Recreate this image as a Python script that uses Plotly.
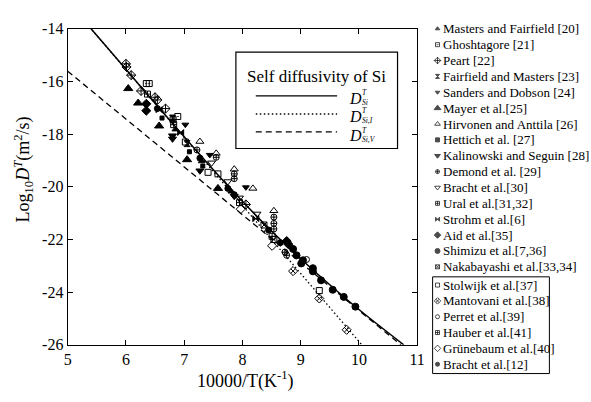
import plotly.graph_objects as go

W, H = 591, 402
SERIF = "Liberation Serif"

# ---- axes -----------------------------------------------------------------
x_ticks = [5, 6, 7, 8, 9, 10, 11]
x_tick_text = ["5", "6", "7", "8", "9", "10", "11"]
y_ticks = [-14, -16, -18, -20, -22, -24, -26]
y_tick_text = ["-14", "-16", "-18", "-20", "-22", "-24", "-26"]

# ---- model curves: log10 D versus 10000/T ---------------------------------
total_x = [5.39, 6.0, 6.5, 7.0, 7.5, 8.0, 8.5, 9.0, 9.5, 10.0, 10.77]
total_y = [-13.97, -15.54, -16.83, -18.10, -19.35, -20.55, -21.68, -22.73, -23.72, -24.66, -26.0]
interstitial_x = [5.42, 10.05]
interstitial_y = [-14.05, -26.0]
vacancy_x = [5.0, 10.72]
vacancy_y = [-15.61, -26.0]

# ---- experimental data (10000/T, log10 D) ----------------------------------
masters_fairfield = ([6.85, 7.30, 7.81], [-17.82, -19.03, -20.18])
ghoshtagore = ([6.35, 6.40, 6.89, 7.02], [-16.08, -16.08, -17.33, -18.30])
peart = ([6.00, 6.01, 6.09, 6.26, 6.50, 6.54, 6.68, 8.06],
         [-15.33, -15.45, -15.76, -16.36, -16.60, -16.70, -17.03, -20.67])
fairfield_masters = ([6.80, 7.05], [-17.39, -18.36])
sanders_dobson = ([7.02, 7.44, 8.06], [-17.64, -18.79, -20.02])
mayer = ([6.04, 6.21, 6.57, 7.05, 7.58], [-16.27, -16.82, -17.69, -18.97, -20.06])
hirvonen_anttila = ([7.27, 7.55, 7.86, 8.18, 8.54], [-18.28, -18.73, -19.33, -20.06, -20.91])
hettich = ([6.62, 7.09, 7.32], [-17.39, -18.67, -19.21])
kalinowski_seguin = ([6.80, 6.80, 7.27, 7.86], [-18.06, -18.18, -19.39, -20.36])
demond = ([7.22, 7.55, 7.86, 7.86, 8.54, 8.54, 8.54, 8.73, 8.76],
          [-18.60, -18.88, -19.51, -19.69, -21.15, -21.39, -21.60, -22.48, -22.60])
bracht_30 = ([7.47, 7.75, 7.95, 8.25], [-19.09, -19.80, -20.42, -21.03])
ural = ([6.37, 6.81, 6.82, 7.95], [-16.48, -17.45, -17.64, -20.60])
strohm = ([6.57, 6.94, 8.23], [-17.07, -17.94, -21.21])
aid = ([6.35, 6.35, 8.76, 8.79], [-16.85, -17.11, -22.06, -22.18])
shimizu = ([8.87, 8.93, 9.01, 9.04, 9.21, 9.21, 9.35, 9.55, 9.74, 9.94],
           [-22.36, -22.60, -22.91, -22.79, -23.09, -23.21, -23.55, -23.91, -24.18, -24.55])
nakabayashi = ([8.37, 8.54], [-21.45, -22.00])
stolwijk = ([7.41, 7.58, 9.32], [-19.45, -19.51, -23.94])
mantovani = ([8.87, 9.32, 9.79], [-23.20, -24.24, -25.43])
perret = ([9.10], [-22.76])
hauber = ([8.51], [-21.88])
grunebaum = ([7.97, 8.51], [-20.85, -22.24])
bracht_12 = ([6.54, 7.27, 7.75, 7.86, 8.45, 8.65], [-17.03, -18.91, -20.06, -20.30, -21.64, -22.12])

series_names = [
    "Masters and Fairfield [20]", "Ghoshtagore [21]", "Peart [22]",
    "Fairfield and Masters [23]", "Sanders and Dobson [24]", "Mayer et al.[25]",
    "Hirvonen and Anttila [26]", "Hettich et al. [27]", "Kalinowski and Seguin [28]",
    "Demond et al. [29]", "Bracht et al.[30]", "Ural et al.[31,32]",
    "Strohm et al.[6]", "Aid et al.[35]", "Shimizu et al.[7,36]",
    "Nakabayashi et al.[33,34]",
    "Stolwijk et al.[37]", "Mantovani et al.[38]", "Perret et al.[39]",
    "Hauber et al.[41]", "Grünebaum et al.[40]", "Bracht et al.[12]",
]
series_data = [
    masters_fairfield, ghoshtagore, peart, fairfield_masters, sanders_dobson,
    mayer, hirvonen_anttila, hettich, kalinowski_seguin, demond, bracht_30,
    ural, strohm, aid, shimizu, nakabayashi,
    stolwijk, mantovani, perret, hauber, grunebaum, bracht_12,
]

# marker style per series: (symbol, size)
series_style = [
    ("triangle-up", 6), ("square-open-dot", 6), ("diamond-cross-open", 7),
    ("hourglass", 6), ("triangle-down", 6), ("triangle-up", 8),
    ("triangle-up-open", 7), ("square", 4), ("triangle-down", 7),
    ("circle-cross-open", 6), ("triangle-down-open", 7), ("square-cross-open", 6),
    ("bowtie", 6), ("diamond", 7), ("circle", 7), ("square-x-open", 6),
    ("square-open", 6), ("diamond-x-open", 7), ("circle-open", 6),
    ("square-cross-open", 6), ("diamond-open", 7), ("circle-x", 6),
]

fig = go.Figure()

# model curves
fig.add_trace(go.Scatter(x=vacancy_x, y=vacancy_y, mode="lines",
                         line=dict(color="black", width=1.3, dash="6px,4px"),
                         showlegend=False, hoverinfo="skip"))
fig.add_trace(go.Scatter(x=interstitial_x, y=interstitial_y, mode="lines",
                         line=dict(color="black", width=1.3, dash="1.5px,2.5px"),
                         showlegend=False, hoverinfo="skip"))
fig.add_trace(go.Scatter(x=total_x, y=total_y, mode="lines", line_shape="spline",
                         line=dict(color="black", width=1.5),
                         showlegend=False, hoverinfo="skip"))

for name, (xs, ys), (sym, size) in zip(series_names, series_data, series_style):
    fig.add_trace(go.Scatter(
        x=xs, y=ys, mode="markers", name=name, showlegend=False,
        marker=dict(symbol=sym, size=size, color="black",
                    line=dict(color="black", width=1)),
    ))

# ---- key on the right, drawn in a pixel frame (x2/y2) ----------------------
row_y = [21.7 + 16.57 * i for i in range(16)] + [289.3 + 16.53 * j for j in range(6)]
fig.add_trace(go.Scatter(
    x=[442.5] * len(series_names), y=row_y, xaxis="x2", yaxis="y2",
    mode="markers", showlegend=False, hoverinfo="skip",
    marker=dict(symbol=[s for s, _ in series_style],
                size=[max(4, sz - 2) for _, sz in series_style],
                color="black", line=dict(color="black", width=1)),
))

annotations = []
for name, yy in zip(series_names, row_y):
    annotations.append(dict(x=446.5, y=yy, xref="x2", yref="y2", text=name,
                            showarrow=False, xanchor="left", yanchor="middle",
                            font=dict(family=SERIF, size=13, color="black")))

shapes = [
    dict(type="rect", xref="x2", yref="y2", x0=437.5, x1=556.7, y0=280.7, y1=381.7,
         line=dict(color="black", width=1)),
    # inset key box
    dict(type="rect", xref="x2", yref="y2", x0=236.7, x1=401.7, y0=46, y1=146.7,
         line=dict(color="black", width=1.2), fillcolor="white"),
    dict(type="line", xref="x2", yref="y2", x0=257, x1=340, y0=91.7, y1=91.7,
         line=dict(color="black", width=1.3)),
    dict(type="line", xref="x2", yref="y2", x0=257, x1=340, y0=110.7, y1=110.7,
         line=dict(color="black", width=1.3, dash="1.5px,2.5px")),
    dict(type="line", xref="x2", yref="y2", x0=257, x1=340, y0=129.3, y1=129.3,
         line=dict(color="black", width=1.3, dash="6px,4px")),
]

annotations.append(dict(x=319, y=71.5, xref="x2", yref="y2", text="Self diffusivity of Si",
                        showarrow=False, xanchor="center", yanchor="middle",
                        font=dict(family=SERIF, size=17, color="black")))
for yy, sub in [(94, "Si"), (113, "Si,I"), (133, "Si,V")]:
    annotations.append(dict(x=350, y=yy, xref="x2", yref="y2", text="<i>D</i>",
                            showarrow=False, xanchor="left", yanchor="middle",
                            font=dict(family=SERIF, size=16, color="black")))
    annotations.append(dict(x=363, y=yy - 5.5, xref="x2", yref="y2", text="<i>T</i>",
                            showarrow=False, xanchor="left", yanchor="middle",
                            font=dict(family=SERIF, size=7.5, color="black")))
    annotations.append(dict(x=363, y=yy + 4.5, xref="x2", yref="y2", text="<i>%s</i>" % sub,
                            showarrow=False, xanchor="left", yanchor="middle",
                            font=dict(family=SERIF, size=7.5, color="black")))

# axis titles
annotations.append(dict(x=246, y=388, xref="x2", yref="y2",
                        text="10000/T(K<sup>-1</sup>)", showarrow=False,
                        xanchor="center", yanchor="middle",
                        font=dict(family=SERIF, size=18, color="black")))
annotations.append(dict(x=20, y=169, xref="x2", yref="y2", textangle=-90,
                        text="Log<sub>10</sub><i>D</i><sup><i>T</i></sup>(m<sup>2</sup>/s)",
                        showarrow=False, xanchor="center", yanchor="middle",
                        font=dict(family=SERIF, size=18, color="black")))

axis_common = dict(showgrid=False, zeroline=False, showline=True, mirror="ticks",
                   linecolor="black", linewidth=1.2, ticks="inside", ticklen=5,
                   tickwidth=1, tickcolor="black",
                   tickfont=dict(family=SERIF, size=16, color="black"))

fig.update_layout(
    width=W, height=H, autosize=False,
    margin=dict(l=0, r=0, t=0, b=0),
    paper_bgcolor="white", plot_bgcolor="rgba(0,0,0,0)",
    showlegend=False,
    font=dict(family=SERIF),
    xaxis=dict(domain=[65 / W, 421.7 / W], range=[5, 11], tickvals=x_ticks,
               ticktext=x_tick_text, **axis_common),
    yaxis=dict(domain=[1 - 351.7 / H, 1 - 21.7 / H], range=[-26, -14], tickvals=y_ticks,
               ticktext=y_tick_text, **axis_common),
    xaxis2=dict(domain=[0, 1], range=[0, W], visible=False, fixedrange=True),
    yaxis2=dict(domain=[0, 1], range=[H, 0], visible=False, fixedrange=True),
    shapes=shapes,
    annotations=annotations,
)

fig.write_html("out.html")
